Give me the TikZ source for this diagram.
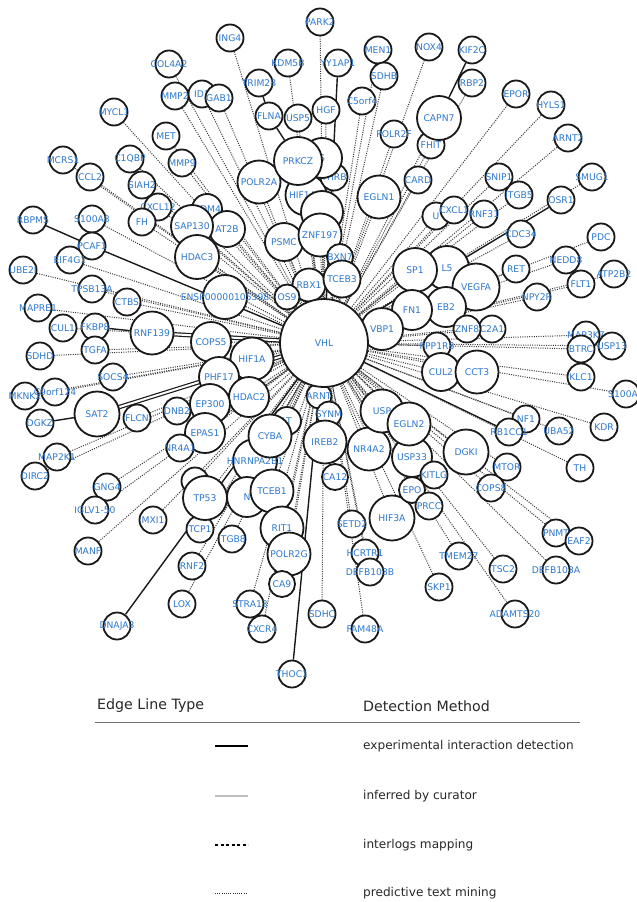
\documentclass[tikz,border=0pt]{standalone}
\usepackage{fontspec}
\newfontfamily\lblfont{DejaVu Sans}
\usetikzlibrary{backgrounds}
\definecolor{lblue}{RGB}{45,120,205}
\definecolor{legtxt}{RGB}{40,40,40}
\tikzset{
  gn/.style={circle, draw=black!90, line width=1.8pt, fill=white, inner sep=0pt, minimum size=#1},
  gn/.default=27pt,
  lbl/.style={text=lblue, font=\lblfont\fontsize{9.2}{10}\selectfont, inner sep=0pt},
  pm/.style={draw=black!78, line width=1pt, dash pattern=on 1pt off 1.3pt},
  ex/.style={draw=black!90, line width=1.4pt},
  exd/.style={draw=black!90, line width=1.2pt, double=white, double distance=2pt},
  legh/.style={font=\lblfont\fontsize{14.2}{16}\selectfont, text=legtxt, inner sep=0pt},
  legt/.style={font=\lblfont\fontsize{12.1}{14}\selectfont, text=legtxt, inner sep=0pt},
}
\newcommand\gnd[5]{\node[gn=#4, label={[lbl]center:#5}] (#1) at (#2,#3) {};}
\begin{document}
\begin{tikzpicture}[x=1pt,y=-1pt]
\useasboundingbox (0,0) rectangle (637,902);
% periphery
\gnd{COLA}{169}{64}{27pt}{COL4A2}
\gnd{MMPb}{175}{96}{27pt}{MMP2}
\gnd{IDa}{202}{94}{27pt}{ID1}
\gnd{GABa}{219}{98}{27pt}{GAB1}
\gnd{MYCL}{114}{112}{27pt}{MYCL1}
\gnd{MET}{166}{136}{27pt}{MET}
\gnd{MCRS}{63}{160}{27pt}{MCRS1}
\gnd{CQBP}{130}{159}{27pt}{C1QBP}
\gnd{MMPn}{182}{163}{27pt}{MMP9}
\gnd{CCL}{90}{177}{27pt}{CCL2}
\gnd{SIAH}{142}{185}{27pt}{SIAH2}
\gnd{CXCLa}{158}{207}{27pt}{CXCL12}
\gnd{FH}{142}{222}{27pt}{FH}
\gnd{RBPMS}{33}{220}{27pt}{RBPMS}
\gnd{SAH}{92}{219}{27pt}{S100A8}
\gnd{PCAF}{92}{246}{27pt}{PCAF1}
\gnd{EIF}{70}{260}{27pt}{EIF4G1}
\gnd{UBE}{23}{270}{27pt}{UBE2I}
\gnd{TPSB}{92}{289}{27pt}{TPSB13A}
\gnd{CTBS}{127}{302}{27pt}{CTBS}
\gnd{MAPRE}{38}{308}{27pt}{MAPRE1}
\gnd{FKBP}{95}{327}{27pt}{FKBP8}
\gnd{CUL1}{63}{328}{27pt}{CUL1}
\gnd{TGFA}{95}{350}{27pt}{TGFA}
\gnd{SDHD}{40}{356}{27pt}{SDHD}
\gnd{SOCS}{113}{377}{27pt}{SOCS4}
\gnd{MKNK}{25}{396}{27pt}{MKNK2}
\gnd{CORF}{55}{392}{27pt}{C9orf124}
\gnd{DGKZ}{40}{423}{27pt}{DGKZ}
\gnd{FLCN}{137}{418}{27pt}{FLCN}
\gnd{MAPK}{57}{457}{27pt}{MAP2K1}
\gnd{DIRC}{35}{476}{27pt}{DIRC2}
\gnd{GNG}{107}{487}{27pt}{GNG4}
\gnd{IGLV}{95}{510}{27pt}{IGLV1-50}
\gnd{MXI}{153}{520}{27pt}{MXI1}
\gnd{MANF}{88}{551}{27pt}{MANF}
\gnd{RNFb}{192}{566}{27pt}{RNF2}
\gnd{LOX}{182}{604}{27pt}{LOX}
\gnd{DNAJ}{117}{626}{27pt}{DNAJA3}
\gnd{TCP}{200}{529}{27pt}{TCP1}
\gnd{ITGBe}{232}{539}{27pt}{ITGB8}
\gnd{STRA}{250}{604}{27pt}{STRA13}
\gnd{CXCR}{262}{629}{27pt}{CXCR4}
\gnd{SDHC}{322}{614}{27pt}{SDHC}
\gnd{THOC}{292}{674}{27pt}{THOC1}
\gnd{SETD}{352}{524}{27pt}{SETD2}
\gnd{HCRT}{365}{553}{27pt}{HCRTR1}
\gnd{DEFBb}{370}{572}{27pt}{DEFB103B}
\gnd{FAM}{365}{629}{27pt}{FAM48A}
\gnd{TMEM}{459}{556}{27pt}{TMEM27}
\gnd{SKP}{439}{587}{27pt}{SKP1}
\gnd{TSC}{503}{569}{27pt}{TSC2}
\gnd{ADAM}{515}{614}{27pt}{ADAMTS20}
\gnd{DEFBa}{556}{570}{27pt}{DEFB103A}
\gnd{PNMT}{556}{533}{27pt}{PNMT}
\gnd{EAF}{579}{541}{27pt}{EAF2}
\gnd{TH}{580}{468}{27pt}{TH}
\gnd{KDR}{604}{427}{27pt}{KDR}
\gnd{UBA}{559}{431}{27pt}{UBA52}
\gnd{NFa}{526}{419}{27pt}{NF1}
\gnd{RBCC}{509}{432}{27pt}{RB1CC1}
\gnd{MTOR}{507}{467}{27pt}{MTOR}
\gnd{COPSe}{491}{488}{27pt}{COPS8}
\gnd{SHUN}{626}{394}{27pt}{S100A4}
\gnd{KLC}{581}{377}{27pt}{KLC1}
\gnd{MAPKK}{586}{335}{27pt}{MAP3K7}
\gnd{USPm}{612}{346}{27pt}{USP13}
\gnd{BTRC}{581}{349}{27pt}{BTRC}
\gnd{NPY}{537}{297}{27pt}{NPY2R}
\gnd{NEDD}{566}{260}{27pt}{NEDD8}
\gnd{FLT}{581}{284}{27pt}{FLT1}
\gnd{ATP}{614}{274}{27pt}{ATP2B2}
\gnd{RET}{516}{269}{27pt}{RET}
\gnd{PDC}{601}{237}{27pt}{PDC}
\gnd{CDC}{521}{234}{27pt}{CDC34}
\gnd{OSR}{561}{200}{27pt}{OSR1}
\gnd{ITGBf}{519}{195}{27pt}{ITGB5}
\gnd{SNIP}{499}{177}{27pt}{SNIP1}
\gnd{SMUG}{592}{177}{27pt}{SMUG1}
\gnd{ARNTb}{568}{138}{27pt}{ARNT2}
\gnd{HYLS}{551}{105}{27pt}{HYLS1}
\gnd{EPOR}{516}{94}{27pt}{EPOR}
\gnd{RBP}{472}{83}{27pt}{RBP2}
\gnd{KIF}{472}{50}{27pt}{KIF2C}
\gnd{NOX}{429}{47}{27pt}{NOX4}
\gnd{MEN}{378}{50}{27pt}{MEN1}
\gnd{SDHB}{384}{76}{27pt}{SDHB}
\gnd{PARK}{320}{22}{27pt}{PARK2}
\gnd{YYAP}{338}{63}{27pt}{YY1AP1}
\gnd{KDM}{288}{63}{27pt}{KDM5B}
\gnd{ING}{230}{38}{27pt}{ING4}
\gnd{TRIM}{259}{83}{27pt}{TRIM28}
\gnd{FLNA}{269}{116}{27pt}{FLNA}
\gnd{USPf}{298}{118}{27pt}{USP5}
\gnd{HGF}{326}{110}{27pt}{HGF}
\gnd{CORFb}{362}{101}{27pt}{C5orf4}
\gnd{POLRf}{394}{134}{27pt}{POLR2F}
\gnd{FHIT}{431}{145}{27pt}{FHIT}
\gnd{CAPN}{439}{118}{44pt}{CAPN7}
\gnd{CARD}{418}{180}{27pt}{CARD}
\gnd{Ua}{436}{216}{27pt}{U}
\gnd{CXCLb}{454}{210}{27pt}{CXCL1}
\gnd{RNFc}{484}{214}{27pt}{RNF31}
% inner cluster
\gnd{HDM}{207}{209}{30pt}{HDM4}
\gnd{ATB}{227}{229}{36pt}{AT2B}
\gnd{SAP}{192}{226}{42pt}{SAP130}
\gnd{HDACc}{197}{257}{44pt}{HDAC3}
\gnd{RNFx}{152}{333}{43pt}{RNF139}
\gnd{ENSP}{225}{297}{44pt}{ENSP00000105398}
\gnd{POLRa}{259}{182}{43pt}{POLR2A}
\gnd{HIFan}{306}{195}{41pt}{HIF1AN}
\gnd{THRB}{334}{177}{27pt}{THRB}
\gnd{Sx}{322}{158}{40pt}{S}
\gnd{PRKCZ}{298}{161}{48pt}{PRKCZ}
\gnd{EGLNa}{379}{197}{43pt}{EGLN1}
\gnd{Cx}{322}{212}{42pt}{}
\gnd{PSMC}{284}{242}{38pt}{PSMC}
\gnd{ZNF}{320}{235}{43pt}{ZNF197}
\gnd{BXN}{340}{257}{26pt}{BXN7}
\gnd{RBX}{309}{285}{33pt}{RBX1}
\gnd{TCEBc}{342}{279}{37pt}{TCEB3}
\gnd{OS}{287}{297}{25pt}{OS9}
\gnd{L5}{447}{268}{44pt}{L5}
\gnd{SP}{415}{270}{44pt}{SP1}
\gnd{VEGFA}{476}{287}{47pt}{VEGFA}
\gnd{EB}{446}{307}{40pt}{EB2}
\gnd{FN}{412}{310}{40pt}{FN1}
\gnd{VBP}{382}{329}{42pt}{VBP1}
\gnd{SLC}{492}{329}{27pt}{C2A1}
\gnd{ZNFe}{467}{329}{27pt}{ZNF8}
\gnd{PPP}{437}{346}{27pt}{PPP1R8}
\gnd{CUL2}{441}{372}{38pt}{CUL2}
\gnd{CCT}{477}{372}{43pt}{CCT3}
\gnd{COPSf}{211}{342}{40pt}{COPS5}
\gnd{HIFa}{252}{359}{43pt}{HIF1A}
\gnd{PHF}{219}{377}{40pt}{PHF17}
\gnd{HDACb}{249}{397}{40pt}{HDAC2}
\gnd{EP}{210}{404}{40pt}{EP300}
\gnd{DNB}{177}{411}{27pt}{DNB2}
\gnd{SAT}{97}{414}{45pt}{SAT2}
\gnd{EPAS}{205}{433}{40pt}{EPAS1}
\gnd{NRa}{180}{448}{27pt}{NR4A1}
\gnd{Cy}{195}{481}{27pt}{}
\gnd{TP}{205}{498}{44pt}{TP53}
\gnd{LT}{287}{421}{28pt}{LT}
\gnd{HNRN}{255}{461}{44pt}{HNRNPA2B1}
\gnd{Nx}{247}{497}{40pt}{N}
\gnd{CYBA}{270}{436}{43pt}{CYBA}
\gnd{TCEBa}{272}{491}{43pt}{TCEB1}
\gnd{RIT}{282}{528}{43pt}{RIT1}
\gnd{POLRg}{289}{554}{43pt}{POLR2G}
\gnd{CA}{282}{584}{26pt}{CA9}
\gnd{ARNT}{319}{396}{25pt}{ARNT}
\gnd{SYNM}{329}{414}{25pt}{SYNM}
\gnd{IREB}{325}{442}{43pt}{IREB2}
\gnd{CAt}{335}{477}{26pt}{CA12}
\gnd{NRb}{369}{449}{43pt}{NR4A2}
\gnd{HIFc}{392}{518}{45pt}{HIF3A}
\gnd{USPt}{412}{457}{40pt}{USP33}
\gnd{USP}{382}{411}{43pt}{USP}
\gnd{EGLNb}{409}{424}{43pt}{EGLN2}
\gnd{EPO}{412}{490}{26pt}{EPO}
\gnd{KIT}{434}{475}{27pt}{KITLG}
\gnd{PRCC}{429}{506}{27pt}{PRCC}
\gnd{DGKI}{466}{452}{45pt}{DGKI}
\gnd{VHL}{324}{343}{88pt}{VHL}
% edges
\begin{scope}[on background layer]
\fill[white] (0,0) rectangle (637,902);
\foreach \n in {COLA,MMPb,IDa,GABa,MYCL,MET,MCRS,CQBP,MMPn,CCL,SIAH,CXCLa,FH,SAH,EIF,UBE,TPSB,CTBS,MAPRE,CUL1,TGFA,SDHD,SOCS,MKNK,CORF,FLCN,MAPK,DIRC,GNG,IGLV,MXI,MANF,RNFb,LOX,TCP,ITGBe,STRA,CXCR,SDHC,SETD,HCRT,DEFBb,FAM,TMEM,SKP,TSC,ADAM,DEFBa,PNMT,EAF,TH,KDR,UBA,NFa,MTOR,COPSe,SHUN,KLC,MAPKK,USPm,BTRC,NPY,NEDD,FLT,ATP,RET,PDC,CDC,ITGBf,SNIP,SMUG,ARNTb,HYLS,EPOR,RBP,NOX,MEN,SDHB,PARK,KDM,ING,USPf,HGF,CORFb,POLRf,CAPN,FHIT,CARD,Ua,CXCLb,RNFc,HDM,ATB,SAP,HDACc,ENSP,POLRa,HIFan,THRB,Sx,PRKCZ,EGLNa,Cx,PSMC,ZNF,BXN,RBX,TCEBc,OS,L5,SP,VEGFA,EB,FN,VBP,ZNFe,SLC,PPP,CUL2,CCT,COPSf,HIFa,PHF,HDACb,EP,DNB,EPAS,NRa,Cy,TP,LT,HNRN,Nx,CYBA,TCEBa,RIT,POLRg,CA,ARNT,SYNM,IREB,CAt,NRb,HIFc,USPt,USP,EGLNb,EPO,KIT,PRCC,DGKI}
  \draw[pm] (\n) -- (VHL);
\foreach \n in {YYAP,OSR,THOC,RBCC,DNAJ,PCAF}
  \draw[ex] (\n) -- (VHL);
\draw[exd] (SAT) -- (VHL);
\draw[exd] (RNFx) -- (VHL);
\draw[ex] (RBPMS) -- (PCAF);
\draw[ex] (KIF) -- (CAPN);
\draw[ex] (TRIM) -- (FLNA);
\draw[ex] (FLNA) -- (PRKCZ);
\draw[ex] (DGKZ) -- (SAT);
\draw[ex] (FKBP) -- (RNFx);
\end{scope}
% legend
\node[legh, anchor=west] (lh1) at (97,706) {Edge Line Type};
\node[legh, anchor=west] (lh2) at (363,706) {Detection Method};
\coordinate (r1) at (95,722); \coordinate (r2) at (580,722);
\draw[black!55, line width=0.8pt] (r1) -- (r2);
\coordinate (a1) at (215,746); \coordinate (b1) at (248,746);
\coordinate (a2) at (215,796); \coordinate (b2) at (248,796);
\coordinate (a3) at (215,845); \coordinate (b3) at (248,845);
\coordinate (a4) at (215,893); \coordinate (b4) at (248,893);
\draw[black, line width=1.8pt] (a1) -- (b1);
\draw[black!25, line width=2.6pt] (a2) -- (b2);
\draw[black, line width=1.8pt, dash pattern=on 3pt off 2.5pt] (a3) -- (b3);
\draw[black!80, line width=0.9pt, dash pattern=on 1pt off 1.2pt] (a4) -- (b4);
\node[legt, anchor=west] (t1) at (363,746) {experimental interaction detection};
\node[legt, anchor=west] (t2) at (363,796) {inferred by curator};
\node[legt, anchor=west] (t3) at (363,845) {interlogs mapping};
\node[legt, anchor=west] (t4) at (363,893) {predictive text mining};
\end{tikzpicture}
\end{document}
